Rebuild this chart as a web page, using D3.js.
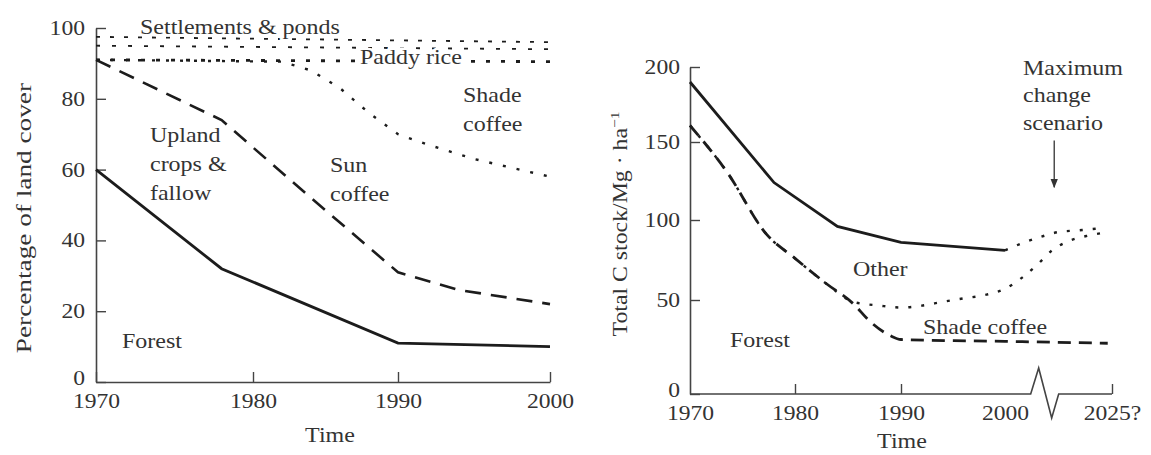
<!DOCTYPE html>
<html>
<head>
<meta charset="utf-8">
<script src="https://cdn.jsdelivr.net/npm/d3@7"></script>
<style>
  html, body { margin: 0; padding: 0; background: #fff; }
  svg { display: block; font-family: "Liberation Serif", "Times New Roman", serif; }
</style>
</head>
<body>
<div id="chart"></div>
<script>
// ---- left panel: percentage of land cover ----
const leftTicksX = [1970, 1980, 1990, 2000];
const leftTicksY = [0, 20, 40, 60, 80, 100];

const forestYears = [1970, 1978, 1990, 2000];
const forestCover = [60, 32, 11, 10];

const uplandYears = [1970, 1978, 1984, 1990, 1994, 2000];
const uplandCover = [91, 74, 52, 31, 26, 22];

const shadeYears = [1970, 1982, 1984, 1986, 1988, 1990, 1992, 1995, 2000];
const shadeCover = [91, 90.5, 88, 83, 76, 70, 67, 63, 58];

const paddyYears = [1970, 2000];
const paddyCover = [91, 90.5];

const riceTopYears = [1970, 2000];
const riceTopCover = [95, 94];

const settleYears = [1970, 2000];
const settleCover = [97.5, 96];

// ---- right panel: total C stock ----
const rightTicksX = [1970, 1980, 1990, 2000, 2025];
const rightTickLabels = ["1970", "1980", "1990", "2000", "2025?"];
const rightTicksY = [0, 50, 100, 150, 200];

const otherYears = [1970, 1978, 1984, 1990, 2000];
const otherStock = [190, 124, 96, 86, 81];

const otherFutureYears = [2000, 2004.5, 2009, 2012.5, 2017, 2023];
const otherFutureStock = [81, 86, 90, 92.5, 93.5, 95];

const forestCYears = [1970, 1973.5, 1977.3, 1980, 1983, 1985.5, 1987, 1989, 1990, 2000, 2024];
const forestCStock = [161, 131, 91, 76, 60, 48, 39, 31, 29, 28, 27];

const shadeCYears = [1970, 1973.5, 1977.3, 1980, 1983, 1985.5, 1988, 1990, 1992, 1994, 1996, 1998, 2000, 2004, 2007.5, 2011, 2015, 2019, 2023];
const shadeCStock = [161, 131, 91, 76, 60, 49, 47, 46, 47, 49, 51, 53, 57, 64, 72, 81, 87, 90, 92];

const W = 1151, H = 455;
const INK = "#1c1c1c", TXT = "#333";

const svg = d3.select("#chart").append("svg")
    .attr("width", W)
    .attr("height", H);

svg.append("rect").attr("width", W).attr("height", H).attr("fill", "#fff");

// stretched serif text, like the scanned figure
function label(g, x, y, str, anchor = "start", size = 20, sx = 1.2) {
    const origin = anchor === "start" ? "left" : anchor === "end" ? "right" : "center";
    return g.append("text")
        .attr("x", x)
        .attr("y", y)
        .attr("text-anchor", anchor)
        .attr("fill", TXT)
        .style("font-size", size + "px")
        .style("transform-box", "fill-box")
        .style("transform-origin", origin + " center")
        .style("transform", `scaleX(${sx})`)
        .text(str);
}

// white halo so dotted lines do not run through a label
function halo(t) {
    return t.attr("stroke", "#fff").attr("stroke-width", 5).style("paint-order", "stroke");
}

function styleAxis(g, origin) {
    g.attr("font-family", null).attr("font-size", null);
    g.select(".domain").attr("stroke", "#444").attr("stroke-width", 1.6);
    g.selectAll(".tick line").attr("stroke", "#444").attr("stroke-width", 1.4);
    g.selectAll("text")
        .attr("fill", TXT)
        .style("font-size", "20px")
        .style("transform-box", "fill-box")
        .style("transform-origin", origin + " center")
        .style("transform", "scaleX(1.18)");
}

function series(years, values) {
    return years.map((y, i) => ({ year: y, value: values[i] }));
}

// ================= LEFT PANEL =================
const xL = d3.scaleLinear().domain(leftTicksX).range([96, 253, 398, 550]);
const yL = d3.scaleLinear().domain([0, 100]).range([382, 28]);

const left = svg.append("g");

const lineL = d3.line().x(d => xL(d.year)).y(d => yL(d.value));

const yAxisL = left.append("g")
    .attr("transform", `translate(${xL(1970)},0)`)
    .call(d3.axisLeft(yL).tickValues(leftTicksY).tickSizeInner(-10).tickSizeOuter(0).tickPadding(11))
    .call(g => styleAxis(g, "right"));
yAxisL.selectAll(".tick").filter(d => d === 0).select("text").attr("dy", "0.1em");

left.append("g")
    .attr("transform", `translate(0,${yL(0)})`)
    .call(d3.axisBottom(xL).tickValues(leftTicksX).tickFormat(d3.format("d")).tickSizeInner(-10).tickSizeOuter(0).tickPadding(12))
    .call(g => styleAxis(g, "center"));

const leftLines = [
    { d: series(forestYears, forestCover), dash: null, w: 2.8 },
    { d: series(uplandYears, uplandCover), dash: "16,10", w: 2.6 },
    { d: series(shadeYears, shadeCover), dash: "3,11", w: 2.4 },
    { d: series(paddyYears, paddyCover), dash: "4,11", w: 2.8 },
    { d: series(riceTopYears, riceTopCover), dash: "4,12", w: 1.8 },
    { d: series(settleYears, settleCover), dash: "4,10", w: 1.8 }
];

leftLines.forEach(s => {
    left.append("path")
        .datum(s.d)
        .attr("fill", "none")
        .attr("stroke", INK)
        .attr("stroke-width", s.w)
        .attr("stroke-dasharray", s.dash)
        .attr("d", lineL);
});

halo(label(left, 140, 34, "Settlements & ponds"));
halo(label(left, 360, 64, "Paddy rice"));
label(left, 463, 102, "Shade");
label(left, 463, 131, "coffee");
label(left, 330, 172, "Sun");
label(left, 330, 201, "coffee");
label(left, 150, 142, "Upland");
label(left, 150, 171, "crops &");
label(left, 150, 200, "fallow");
label(left, 122, 348, "Forest");
label(left, 330, 442, "Time", "middle");

const ltitle = left.append("g").attr("transform", "translate(31,218) rotate(-90)");
label(ltitle, 0, 0, "Percentage of land cover", "middle", 22, 1.24);

// ================= RIGHT PANEL =================
const xR = d3.scaleLinear().domain(rightTicksX).range([690, 795, 901, 1005, 1112]);
const yR = d3.scaleLinear().domain(rightTicksY).range([394, 300, 220, 142, 67]);

const right = svg.append("g");
const lineR = d3.line().x(d => xR(d.year)).y(d => yR(d.value));
const curveR = d3.line().x(d => xR(d.year)).y(d => yR(d.value)).curve(d3.curveMonotoneX);

const yAxisR = right.append("g")
    .attr("transform", `translate(${xR(1970)},0)`)
    .call(d3.axisLeft(yR).tickValues(rightTicksY).tickSizeInner(-10).tickSizeOuter(0).tickPadding(10))
    .call(g => styleAxis(g, "right"));
yAxisR.selectAll(".tick").filter(d => d === 0).select("text").attr("dy", "0.1em");

const xAxisR = right.append("g")
    .attr("transform", `translate(0,${yR(0)})`)
    .call(d3.axisBottom(xR).tickValues(rightTicksX)
        .tickFormat((d, i) => rightTickLabels[i])
        .tickSizeInner(-10).tickSizeOuter(0).tickPadding(12))
    .call(g => styleAxis(g, "center"));

// no tick marks at 1970 / 2000, axis drawn with a break instead
xAxisR.selectAll(".tick").filter(d => d === 1970 || d === 2000).select("line").remove();
xAxisR.select(".domain").remove();

const y0 = yR(0), bx = xR(2006);
right.append("path")
    .attr("fill", "none")
    .attr("stroke", "#444")
    .attr("stroke-width", 1.6)
    .attr("d", `M${xR(1970)},${y0}H${bx}L${bx + 8},${y0 - 26}L${bx + 21},${y0 + 24}L${bx + 28},${y0}H${xR(2025)}`);

const rightLines = [
    { d: series(otherYears, otherStock), dash: null, w: 2.8, gen: lineR },
    { d: series(otherFutureYears, otherFutureStock), dash: "3,10", w: 2.4, gen: curveR },
    { d: series(forestCYears, forestCStock), dash: "13,8", w: 2.8, gen: curveR },
    { d: series(shadeCYears, shadeCStock), dash: "3,10", w: 2.4, gen: curveR }
];

rightLines.forEach(s => {
    right.append("path")
        .datum(s.d)
        .attr("fill", "none")
        .attr("stroke", INK)
        .attr("stroke-width", s.w)
        .attr("stroke-dasharray", s.dash)
        .attr("d", s.gen);
});

label(right, 853, 276, "Other");
label(right, 730, 347, "Forest");
label(right, 923, 334, "Shade coffee");
label(right, 1023, 75, "Maximum");
label(right, 1023, 102, "change");
label(right, 1023, 130, "scenario");
label(right, 902, 448, "Time", "middle");

// arrow pointing at the scenario
svg.append("defs").append("marker")
    .attr("id", "arrow")
    .attr("viewBox", "0 0 10 10")
    .attr("refX", 9).attr("refY", 5)
    .attr("markerWidth", 7).attr("markerHeight", 7)
    .attr("orient", "auto")
    .append("path")
    .attr("d", "M0,1L10,5L0,9Z")
    .attr("fill", "#333");

right.append("line")
    .attr("x1", xR(2011.5)).attr("x2", xR(2011.5))
    .attr("y1", yR(151)).attr("y2", yR(121))
    .attr("stroke", "#333")
    .attr("stroke-width", 1.3)
    .attr("marker-end", "url(#arrow)");

const rtitle = right.append("g").attr("transform", "translate(627,224) rotate(-90)");
const rt = label(rtitle, 0, 0, "Total C stock/Mg · ha", "middle", 20, 1.19);
rt.append("tspan").attr("dy", -8).style("font-size", "13px").text("−1");
</script>
</body>
</html>
